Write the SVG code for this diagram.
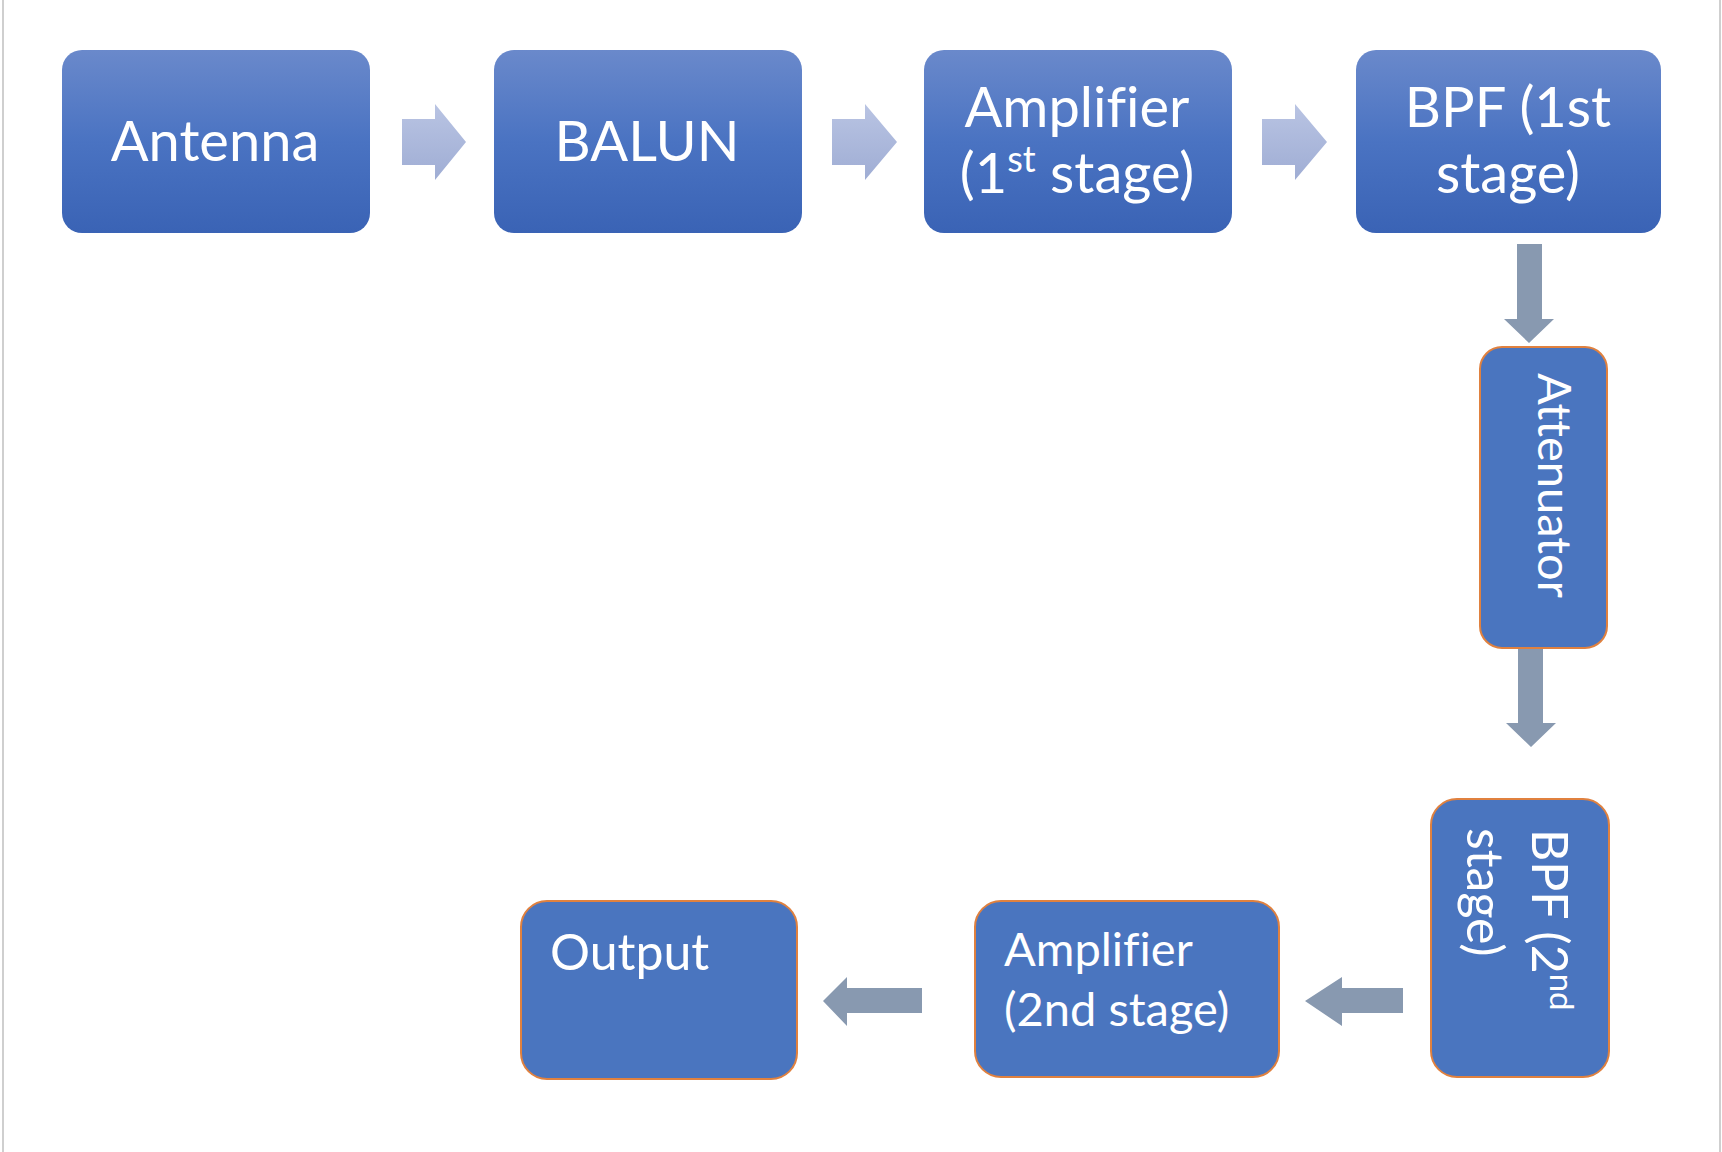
<svg xmlns="http://www.w3.org/2000/svg" width="1722" height="1152" viewBox="0 0 1722 1152">
<style>
.t{font-family:Lato,"Open Sans","Liberation Sans",sans-serif;fill:#fff;font-variant-ligatures:none;font-feature-settings:"liga" 0}
.top{font-size:56px;text-anchor:middle}
.bot{stroke:#E0813F;stroke-width:2;fill:#4A75BF}
.grad{fill:url(#g1)}
.la{fill:url(#g2)}
.da{fill:#8899B0}
</style>
<defs>
<linearGradient id="g1" x1="0" y1="0" x2="0" y2="1">
<stop offset="0" stop-color="#6A89CB"/>
<stop offset="0.5" stop-color="#4A73C2"/>
<stop offset="1" stop-color="#3A63B5"/>
</linearGradient>
<linearGradient id="g2" x1="0" y1="0" x2="0" y2="1">
<stop offset="0" stop-color="#B9C4E3"/>
<stop offset="1" stop-color="#9FADD4"/>
</linearGradient>
</defs>
<rect width="1722" height="1152" fill="#fff"/>
<line x1="3" y1="0" x2="3" y2="1152" stroke="#CFCFCF" stroke-width="2"/>
<line x1="1720" y1="0" x2="1720" y2="1152" stroke="#CFCFCF" stroke-width="2"/>
<g id="connectors">
<polygon class="la" points="402,119 435,119 435,104 466,142 435,180 435,165 402,165"/>
<polygon class="la" points="832,119 865,119 865,104 897,142 865,180 865,165 832,165"/>
<polygon class="la" points="1262,119 1295,119 1295,104 1327,142 1295,180 1295,165 1262,165"/>
<polygon class="da" points="1517,244 1542,244 1542,319 1554,319 1529,343 1504,319 1517,319"/>
<polygon class="da" points="1518,648 1543,648 1543,723 1556,723 1531,747 1506,723 1518,723"/>
<polygon class="da" points="1403,988 1403,1013 1342,1013 1342,1026 1305,1001 1342,977 1342,988"/>
<polygon class="da" points="922,988 922,1013 847,1013 847,1026 823,1001 847,977 847,988"/>
</g>
<g id="antenna">
<rect class="grad" x="62" y="50" width="308" height="183" rx="20"/>
<text class="t top" x="215" y="161">Antenna</text>
</g>
<g id="balun">
<rect class="grad" x="494" y="50" width="308" height="183" rx="20"/>
<text class="t top" x="647" y="161">BALUN</text>
</g>
<g id="amp1">
<rect class="grad" x="924" y="50" width="308" height="183" rx="20"/>
<text class="t top" x="1077" y="127">Amplifier</text>
<text class="t top" x="1077" y="193">(1<tspan font-size="36" dy="-21">st</tspan><tspan dy="21"> stage)</tspan></text>
</g>
<g id="bpf1">
<rect class="grad" x="1356" y="50" width="305" height="183" rx="20"/>
<text class="t top" x="1508" y="127">BPF (1st</text>
<text class="t top" x="1508" y="193">stage)</text>
</g>
<g id="attenuator">
<rect class="bot" x="1480" y="347" width="127" height="301" rx="22"/>
<text class="t" font-size="47" transform="translate(1538,373) rotate(90)">Attenuator</text>
</g>
<g id="bpf2">
<rect class="bot" x="1431" y="799" width="178" height="278" rx="26"/>
<text class="t" font-size="50" transform="translate(1532,829) rotate(90)">BPF (2<tspan font-size="33" dy="-18">nd</tspan></text>
<text class="t" font-size="50" transform="translate(1467,828) rotate(90)">stage)</text>
</g>
<g id="amp2">
<rect class="bot" x="975" y="901" width="304" height="176" rx="26"/>
<text class="t" font-size="47" x="1004" y="966">Amplifier</text>
<text class="t" font-size="47" x="1004" y="1026">(2nd stage)</text>
</g>
<g id="output">
<rect class="bot" x="521" y="901" width="276" height="178" rx="26"/>
<text class="t" font-size="50" x="550" y="970">Output</text>
</g>
</svg>
